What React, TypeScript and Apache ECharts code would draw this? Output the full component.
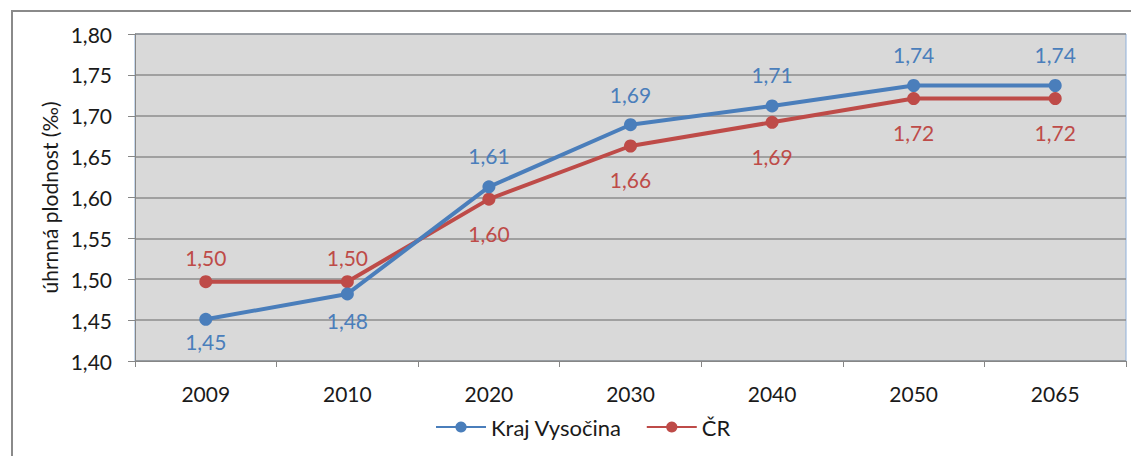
import React, { useEffect, useRef } from "react";
import * as echarts from "echarts";

const categories = ["2009", "2010", "2020", "2030", "2040", "2050", "2065"];
const krajVysocina = [1.451, 1.482, 1.613, 1.689, 1.712, 1.737, 1.737];
const cr = [1.497, 1.497, 1.598, 1.663, 1.692, 1.721, 1.721];
const krajLabelPos = ["bottom", "bottom", "top", "top", "top", "top", "top"];
const crLabelPos = ["top", "top", "bottom", "bottom", "bottom", "bottom", "bottom"];
const krajLabelGap = [5, 10, 14, 13, 14, 14, 14];
const crLabelGap = [7, 7, 17, 17, 17, 17, 17];

const BLUE = "#4a7ebb";
const RED = "#be4b48";
const FONT = "Lato";
const FS = 21;

const fmt = (v: number) => v.toFixed(2).replace(".", ",");

function buildData(values: number[], positions: string[], gaps: number[], color: string) {
  return values.map((v, i) => ({
    value: v,
    label: {
      show: true,
      position: positions[i],
      distance: gaps[i],
      color,
      fontFamily: FONT,
      fontSize: FS,
      formatter: (p: any) => fmt(p.value),
    },
  }));
}

export default function App() {
  const ref = useRef<HTMLDivElement>(null);
  useEffect(() => {
    const chart = echarts.init(ref.current!, null, { renderer: "svg" });
    chart.setOption({
      animation: false,
      backgroundColor: "#ffffff",
      textStyle: { fontFamily: FONT },
      grid: {
        left: 135,
        right: 5,
        top: 34,
        bottom: 95,
        show: true,
        backgroundColor: "#d9d9d9",
        borderColor: "#8fb0d9",
        borderWidth: 1,
      },
      graphic: [
        {
          type: "polyline",
          shape: { points: [[12, 460], [12, 11], [1135, 11]] },
          style: { stroke: "#8a8a8a", lineWidth: 2, fill: "none" },
          silent: true,
        },
      ],
      legend: {
        bottom: 13,
        left: 430,
        itemWidth: 50,
        itemHeight: 14,
        itemGap: 24,
        textStyle: { fontFamily: FONT, fontSize: 22, color: "#1a1a1a" },
        data: ["Kraj Vysočina", "ČR"],
      },
      xAxis: {
        type: "category",
        data: categories,
        boundaryGap: true,
        axisLine: { lineStyle: { color: "#868686", width: 1 } },
        axisTick: { show: true, length: 6, lineStyle: { color: "#868686" } },
        axisLabel: { margin: 22, fontSize: FS, fontFamily: FONT, color: "#1a1a1a" },
      },
      yAxis: {
        type: "value",
        min: 1.4,
        max: 1.8,
        interval: 0.05,
        name: "úhrnná plodnost (‰)",
        nameLocation: "middle",
        nameGap: 74,
        nameTextStyle: { fontFamily: FONT, fontSize: FS, color: "#1a1a1a" },
        axisLine: { show: true, lineStyle: { color: "#868686", width: 1 } },
        axisTick: { show: true, length: 7, lineStyle: { color: "#868686" } },
        axisLabel: {
          margin: 23,
          fontSize: FS,
          fontFamily: FONT,
          color: "#1a1a1a",
          formatter: (v: number) => fmt(v),
        },
        splitLine: { show: true, lineStyle: { color: "#8c8c8c", width: 1.5 } },
      },
      series: [
        {
          name: "Kraj Vysočina",
          type: "line",
          data: buildData(krajVysocina, krajLabelPos, krajLabelGap, BLUE),
          color: BLUE,
          lineStyle: { width: 4, color: BLUE },
          symbol: "circle",
          symbolSize: 13,
          itemStyle: { color: BLUE },
          z: 3,
        },
        {
          name: "ČR",
          type: "line",
          data: buildData(cr, crLabelPos, crLabelGap, RED),
          color: RED,
          lineStyle: { width: 4, color: RED },
          symbol: "circle",
          symbolSize: 13,
          itemStyle: { color: RED },
          z: 2,
        },
      ],
    });
    return () => chart.dispose();
  }, []);
  return (
    <div
      ref={ref}
      style={{ position: "fixed", left: 0, top: 0, width: 1131, height: 456 }}
    />
  );
}
